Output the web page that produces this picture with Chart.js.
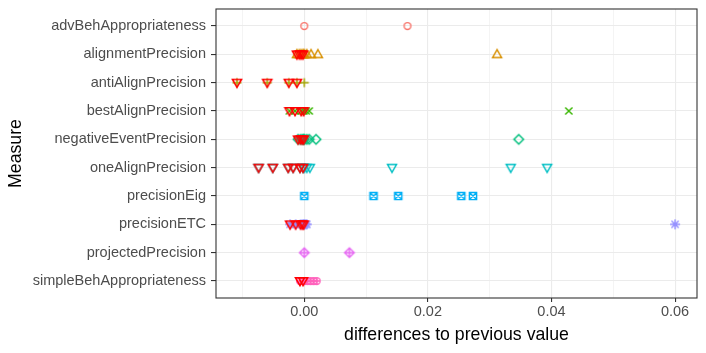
<!DOCTYPE html>
<html lang="en">
<head>
    <meta charset="UTF-8">
    <title>Differences to previous value</title>
    <style>
        html, body { margin: 0; padding: 0; background: #fff; }
        #box { width: 706px; height: 353px; }
    </style>
</head>
<body>
    <div id="box">
        <canvas id="myChart" width="706" height="353"></canvas>
    </div>
</body>
<script src="https://cdn.jsdelivr.net/npm/chart.js@4.4.1/dist/chart.umd.min.js"></script>
<script>
    // measures (top to bottom) and their colours / shapes
    var measures = ["advBehAppropriateness", "alignmentPrecision", "antiAlignPrecision",
        "bestAlignPrecision", "negativeEventPrecision", "oneAlignPrecision",
        "precisionEig", "precisionETC", "projectedPrecision", "simpleBehAppropriateness"];
    var colores = ["#F8766D", "#D89000", "#A3A500", "#39B600", "#00BF7D",
        "#00BFC4", "#00B0F6", "#9590FF", "#E76BF3", "#FF62BC"];
    var formas = [1, 2, 3, 4, 5, 6, 7, 8, 9, 10];

    // differences per measure
    var advBehAppropriateness = [0, 0.0167];
    var alignmentPrecision = [-0.0012, -0.0008, -0.0005, -0.0002, 0, 0.0004, 0.0011, 0.0022, 0.0312];
    var antiAlignPrecision = [-0.0109, -0.0060, -0.0025, -0.0012, 0];
    var bestAlignPrecision = [-0.0024, -0.0015, -0.0005, -0.0001, 0.0003, 0.0008, 0.0428];
    var negativeEventPrecision = [-0.0010, -0.0006, -0.0003, -0.0001, 0, 0.0004, 0.0008, 0.0019, 0.0347];
    var oneAlignPrecision = [-0.0074, -0.0051, -0.0026, -0.0018, -0.0007, -0.0002, 0, 0.0004, 0.0009, 0.0142, 0.0334, 0.0393];
    var precisionEig = [0, 0.0112, 0.0152, 0.0254, 0.0273];
    var precisionETC = [-0.0023, -0.0014, -0.0006, -0.0003, -0.0001, 0, 0.0002, 0.0004, 0.0600];
    var projectedPrecision = [0, 0.0073];
    var simpleBehAppropriateness = [-0.0007, -0.0002, 0, 0.0005, 0.0010, 0.0015, 0.0020];

    var valores = [advBehAppropriateness, alignmentPrecision, antiAlignPrecision,
        bestAlignPrecision, negativeEventPrecision, oneAlignPrecision,
        precisionEig, precisionETC, projectedPrecision, simpleBehAppropriateness];

    var xTicks = [-0.01, 0, 0.01, 0.02, 0.03, 0.04, 0.05, 0.06];

    // ggplot-like point shapes drawn on small canvases
    function marcador(forma, color, grosor) {
        var c = document.createElement('canvas');
        c.width = 16; c.height = 16;
        var g = c.getContext('2d');
        var m = 8;
        g.strokeStyle = color;
        g.lineWidth = grosor;
        g.lineCap = 'butt';
        g.beginPath();
        function circulo(r) { g.moveTo(m + r, m); g.arc(m, m, r, 0, Math.PI * 2); }
        function linea(x1, y1, x2, y2) { g.moveTo(m + x1, m + y1); g.lineTo(m + x2, m + y2); }
        if (forma === 1) circulo(3.4);
        if (forma === 2) { g.moveTo(m, m - 4.7); g.lineTo(m + 4.5, m + 3.2); g.lineTo(m - 4.5, m + 3.2); g.closePath(); }
        if (forma === 3) { linea(-4.5, 0, 4.5, 0); linea(0, -4.5, 0, 4.5); }
        if (forma === 4) { linea(-3.6, -3.6, 3.6, 3.6); linea(-3.6, 3.6, 3.6, -3.6); }
        if (forma === 5) { g.moveTo(m, m - 4.8); g.lineTo(m + 4.8, m); g.lineTo(m, m + 4.8); g.lineTo(m - 4.8, m); g.closePath(); }
        if (forma === 6) { g.moveTo(m, m + 4.7); g.lineTo(m + 4.5, m - 3.2); g.lineTo(m - 4.5, m - 3.2); g.closePath(); }
        if (forma === 7) { g.rect(m - 3.6, m - 3.6, 7.2, 7.2); linea(-3.6, -3.6, 3.6, 3.6); linea(-3.6, 3.6, 3.6, -3.6); }
        if (forma === 8) { linea(-5, 0, 5, 0); linea(0, -5, 0, 5); linea(-3.6, -3.6, 3.6, 3.6); linea(-3.6, 3.6, 3.6, -3.6); }
        if (forma === 9) { g.moveTo(m, m - 4.8); g.lineTo(m + 4.8, m); g.lineTo(m, m + 4.8); g.lineTo(m - 4.8, m); g.closePath(); linea(-4.8, 0, 4.8, 0); linea(0, -4.8, 0, 4.8); }
        if (forma === 10) { circulo(3.4); linea(-3.4, 0, 3.4, 0); linea(0, -3.4, 0, 3.4); }
        g.stroke();
        return c;
    }

    // red marks for negative differences go first so they are drawn on top
    var negativos = [];
    valores.forEach(function (vals, i) {
        vals.forEach(function (v) { if (v < 0) negativos.push({ x: v, y: i + 1 }); });
    });

    var datasets = [{
        label: 'negative',
        data: negativos,
        pointStyle: marcador(6, '#FF0000', 1.6),
        pointRadius: 5
    }];
    measures.forEach(function (nombre, i) {
        datasets.push({
            label: nombre,
            data: valores[i].map(function (v) { return { x: v, y: i + 1 }; }),
            pointStyle: marcador(formas[i], colores[i], 1.45),
            pointRadius: 5
        });
    });

    var panelBorde = {
        id: 'panelBorde',
        afterDatasetsDraw: function (chart) {
            var a = chart.chartArea, ctx = chart.ctx;
            ctx.save();
            ctx.strokeStyle = '#333333';
            ctx.lineWidth = 1.1;
            ctx.strokeRect(a.left, a.top, a.right - a.left, a.bottom - a.top);
            ctx.restore();
        }
    };

    var fuente = "'Liberation Sans', Arial, Helvetica, sans-serif";
    var esMayor = function (v) { return Math.abs(Math.round(v * 100)) % 2 === 0; };

    var ctx = document.getElementById('myChart').getContext('2d');
    var myChart = new Chart(ctx, {
        type: 'scatter',
        data: { datasets: datasets },
        plugins: [panelBorde],
        options: {
            responsive: false,
            animation: false,
            events: [],
            layout: { autoPadding: false, padding: { top: 9, right: 9, left: 0, bottom: 0 } },
            plugins: { legend: { display: false }, tooltip: { enabled: false } },
            scales: {
                x: {
                    type: 'linear',
                    min: -0.01429,
                    max: 0.06355,
                    bounds: 'data',
                    afterBuildTicks: function (s) { s.ticks = xTicks.map(function (v) { return { value: v }; }); },
                    afterFit: function (s) { s.height = 55; s.paddingLeft = 0; s.paddingRight = 0; },
                    border: { display: false },
                    grid: {
                        color: '#EBEBEB',
                        lineWidth: function (c) { return esMayor(c.tick.value) ? 1.1 : 0.55; },
                        tickColor: function (c) { return esMayor(c.tick.value) ? '#333333' : 'rgba(0,0,0,0)'; },
                        tickLength: 4,
                        tickWidth: 1.1
                    },
                    ticks: {
                        autoSkip: false,
                        maxRotation: 0,
                        padding: 1,
                        color: '#4D4D4D',
                        font: { family: fuente, size: 14.5 },
                        callback: function (v) { return esMayor(v) ? v.toFixed(2) : ''; }
                    },
                    title: {
                        display: true,
                        text: 'differences to previous value',
                        color: '#000000',
                        font: { family: fuente, size: 17.7 },
                        padding: { top: 0, bottom: 7 }
                    }
                },
                y: {
                    type: 'linear',
                    min: 0.4,
                    max: 10.6,
                    reverse: true,
                    bounds: 'data',
                    afterBuildTicks: function (s) { s.ticks = measures.map(function (_, i) { return { value: i + 1 }; }); },
                    afterFit: function (s) { s.width = 216; s.paddingTop = 0; s.paddingBottom = 0; },
                    border: { display: false },
                    grid: {
                        color: '#EBEBEB',
                        lineWidth: 1.1,
                        tickColor: '#333333',
                        tickLength: 5,
                        tickWidth: 1.1
                    },
                    ticks: {
                        autoSkip: false,
                        padding: 5,
                        color: '#4D4D4D',
                        font: { family: fuente, size: 14.5 },
                        callback: function (v) { return measures[Math.round(v) - 1]; }
                    },
                    title: {
                        display: true,
                        text: 'Measure',
                        color: '#000000',
                        font: { family: fuente, size: 17.7 },
                        padding: { top: 5, bottom: 0 }
                    }
                }
            }
        }
    });
</script>
</html>
